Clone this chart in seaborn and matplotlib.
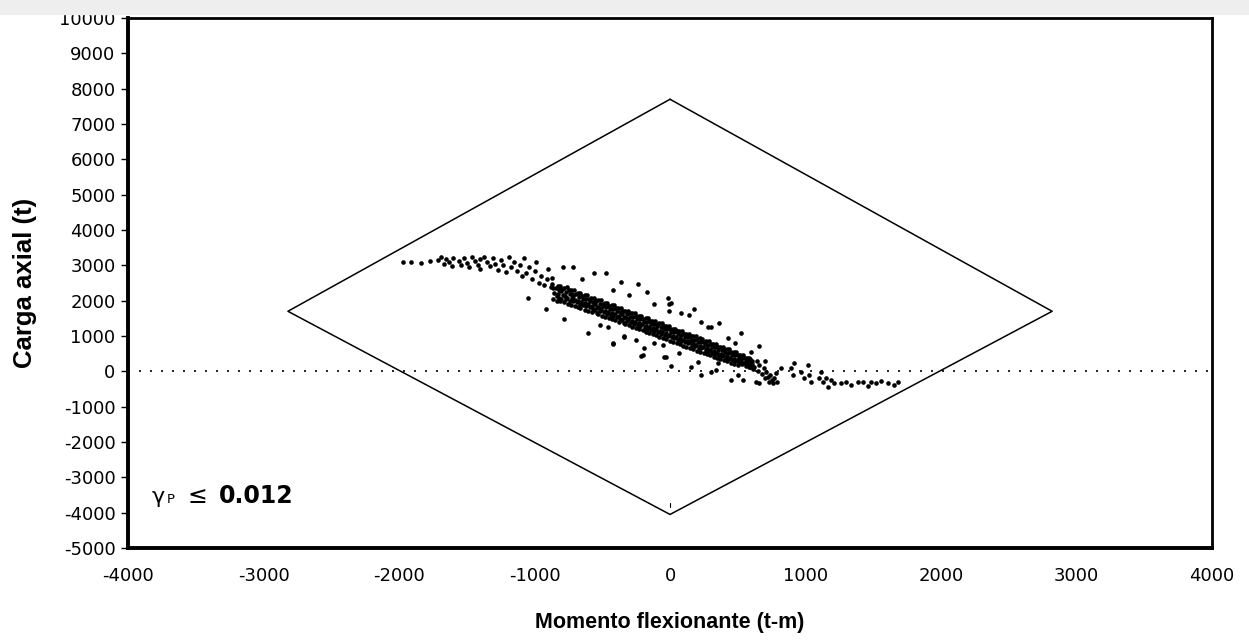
import matplotlib
matplotlib.use("Agg")
import numpy as np
import pandas as pd
import matplotlib.pyplot as plt
import seaborn as sns

# interaction diagram limits (diamond), t-m / t
diamond_m = [0, 2820, 0, -2820, 0]
diamond_p = [7700, 1700, -4050, 1700, 7700]

# upper-left tail of the cloud
tail_up_m = [-1970, -1910, -1840, -1770,
             -1710, -1690, -1670, -1650, -1630, -1610, -1600,
             -1560, -1540, -1520, -1500, -1480, -1460, -1440, -1420, -1400, -1400,
             -1370, -1350, -1330, -1310, -1290, -1270, -1250, -1230, -1210, -1190, -1170, -1150,
             -1130, -1110, -1090, -1080, -1060, -1040, -1020, -1000, -990, -970, -950, -930,
             -910, -900, -880, -870, -860]
tail_up_p = [3090, 3100, 3080, 3110,
             3150, 3250, 3050, 3180, 3100, 2990, 3220,
             3120, 3000, 3200, 3060, 2950, 3240, 3130, 3020, 3180, 2900,
             3250, 3100, 2980, 3200, 3050, 2880, 3150, 3010, 2800, 3230, 2950, 3100,
             2850, 3000, 2700, 3200, 2780, 2950, 2600, 2850, 3100, 2500, 2700, 2450,
             2600, 2900, 2400, 2650, 2350]

# dense band
band_m = [-868, -843, -857, -836, -862,
          -812, -797, -806, -789, -801, -815,
          -764, -748, -741, -757, -736, -752,
          -709, -694, -713, -702, -688, -699,
          -662, -651, -644, -657, -639, -666,
          -613, -598, -592, -607, -588, -604,
          -561, -547, -556, -542, -553, -538,
          -512, -497, -491, -508, -486, -503,
          -463, -449, -441, -457, -437, -452,
          -411, -398, -392, -406, -388, -403,
          -361, -347, -354, -341, -358, -336,
          -312, -298, -293, -307, -287, -302,
          -262, -249, -243, -256, -238, -253,
          -211, -197, -193, -206, -188, -201,
          -162, -148, -143, -157, -138, -152,
          -111, -98, -93, -106, -88, -102,
          -61, -48, -43, -57, -38, -52,
          -11, 2, 7, -6, 12, -2,
          38, 52, 57, 43, 62, 48,
          89, 102, 107, 93, 112, 98,
          138, 152, 157, 143, 162, 148,
          189, 202, 207, 193, 212, 198,
          238, 252, 257, 243, 262, 248,
          289, 302, 307, 293, 312, 298,
          338, 352, 357, 343, 362, 348,
          389, 402, 407, 393, 412, 398,
          438, 452, 457, 443, 462, 448,
          489, 502, 507, 493, 512, 498,
          538, 552, 557, 543, 562,
          588, 602, 607, 593, 612]
band_p = [2480, 2350, 2230, 2120, 2050,
          2420, 2330, 2260, 2150, 2060, 1990,
          2380, 2290, 2180, 2090, 1990, 1920,
          2300, 2200, 2120, 2030, 1950, 1850,
          2230, 2140, 2050, 1960, 1880, 1780,
          2160, 2060, 1990, 1900, 1810, 1720,
          2080, 2000, 1920, 1830, 1750, 1650,
          2010, 1920, 1840, 1760, 1680, 1580,
          1940, 1860, 1770, 1690, 1600, 1510,
          1870, 1780, 1700, 1610, 1530, 1440,
          1800, 1710, 1630, 1540, 1460, 1370,
          1720, 1640, 1550, 1470, 1390, 1300,
          1650, 1570, 1480, 1400, 1320, 1230,
          1580, 1490, 1410, 1330, 1250, 1160,
          1500, 1420, 1340, 1260, 1180, 1090,
          1430, 1350, 1270, 1190, 1110, 1020,
          1360, 1280, 1200, 1110, 1040, 950,
          1290, 1210, 1120, 1040, 960, 870,
          1210, 1130, 1050, 970, 890, 800,
          1140, 1060, 980, 900, 820, 730,
          1070, 990, 900, 820, 740, 650,
          990, 910, 830, 750, 670, 590,
          920, 840, 760, 680, 600, 520,
          850, 770, 690, 610, 530, 450,
          770, 690, 610, 530, 460, 380,
          700, 620, 540, 460, 390, 310,
          620, 540, 460, 390, 320, 240,
          540, 460, 390, 320, 250, 170,
          450, 380, 300, 230, 160,
          350, 280, 200, 130, 60]

band2_m = [-830, -818, -827, -821, -833,
           -781, -770, -776, -768, -779,
           -731, -720, -727, -718, -729,
           -682, -671, -677, -668, -680,
           -631, -620, -627, -618, -629,
           -580, -570, -577, -568, -579,
           -531, -520, -527, -518, -529,
           -481, -470, -477, -468, -479,
           -431, -420, -427, -418, -429,
           -381, -370, -377, -368, -379,
           -331, -320, -327, -318, -329,
           -281, -270, -277, -268, -279,
           -231, -220, -227, -218, -229,
           -181, -170, -177, -168, -179,
           -131, -120, -127, -118, -129,
           -81, -70, -77, -68, -79,
           -31, -20, -27, -18, -29,
           19, 30, 23, 32, 21,
           69, 80, 73, 82, 71,
           119, 130, 123, 132, 121,
           169, 180, 173, 182, 171,
           219, 230, 223, 232, 221,
           269, 280, 273, 282, 271,
           319, 330, 323, 332, 321,
           369, 380, 373, 382, 371,
           419, 430, 423, 432, 421,
           469, 480, 473, 482, 471,
           519, 530, 523, 532,
           569, 580, 573, 582]
band2_p = [2420, 2300, 2190, 2080, 2000,
           2370, 2250, 2140, 2040, 1960,
           2300, 2180, 2070, 1980, 1890,
           2230, 2110, 2000, 1910, 1820,
           2160, 2040, 1930, 1840, 1750,
           2090, 1970, 1860, 1770, 1680,
           2010, 1900, 1790, 1700, 1610,
           1940, 1830, 1720, 1630, 1540,
           1870, 1760, 1650, 1560, 1470,
           1800, 1690, 1580, 1490, 1400,
           1720, 1610, 1500, 1420, 1330,
           1650, 1540, 1430, 1350, 1260,
           1580, 1470, 1360, 1280, 1190,
           1500, 1400, 1290, 1210, 1120,
           1430, 1330, 1220, 1140, 1050,
           1360, 1260, 1150, 1070, 980,
           1290, 1190, 1080, 1000, 910,
           1210, 1110, 1010, 930, 840,
           1140, 1040, 940, 860, 770,
           1070, 970, 870, 790, 700,
           1000, 900, 800, 720, 630,
           930, 830, 720, 650, 560,
           850, 750, 650, 570, 490,
           780, 680, 580, 500, 420,
           700, 600, 500, 430, 350,
           630, 530, 430, 360, 280,
           560, 460, 360, 290, 210,
           470, 380, 280, 200,
           380, 290, 200, 120]

# scattered points around the band
spread_m = [-790, -716, -561, -472, -362, -236, -170, -15, -7, -7,
            -650, -420, -300, -120, 7, 177, 140, 362, 524, 657, 280,
            80, 230, 300, 430, 480, 600, 700,
            -1048, -915, -782, -605, -458, -421, -339, -192, -214, 7, -44,
            -421, -339, -199, -118, -52, -30, 66, 155, 207, 229, 303, 339, 354,
            450, 502, 539, 635, 657, -520, -250]
spread_p = [2940, 2940, 2770, 2770, 2520, 2460, 2240, 2090, 1920, 1700,
            2600, 2300, 2150, 1900, 1924, 1755, 1585, 1358, 1075, 708, 1245,
            1650, 1400, 1250, 950, 800, 550, 300,
            2066, 1755, 1472, 1075, 1245, 764, 962, 651, 424, 141, 396,
            792, 990, 453, 792, 736, 396, 509, 113, 255, -113, -28, 28, 226,
            -255, -113, -255, -311, -340, 1300, 900]

# lower-right tail
tail_low_m = [580, 600, 620, 640, 650, 660, 680, 690, 700, 710, 720, 730, 740,
              750, 760, 770, 780, 790, 819, 893, 915, 908, 967, 989, 1018, 1026,
              1041, 1100, 1114, 1129, 1151, 1166, 1188, 1210, 1262, 1299, 1336,
              1387, 1424, 1461, 1483, 1520, 1557, 1609, 1653, 1683]
tail_low_p = [380, 250, 120, 300, 0, 180, -80, 100, -200, -20, -150, -300, -100,
              -250, -340, -180, -50, -300, 85, 85, 226, -113, -28, -198, 170, -113,
              -311, -198, -28, -311, -198, -453, -255, -340, -340, -311, -396,
              -311, -311, -425, -311, -340, -283, -340, -396, -311]

sns.set_style("white")
plt.rcParams["font.family"] = ["DejaVu Sans"]
plt.rcParams["axes.unicode_minus"] = False
plt.rcParams["text.color"] = "black"
plt.rcParams["xtick.color"] = "black"
plt.rcParams["ytick.color"] = "black"
plt.rcParams["axes.labelcolor"] = "black"

fig = plt.figure(figsize=(12.49, 6.43), dpi=100)
ax = fig.add_axes([0.1025, 0.1477, 0.8679, 0.8243])

# faint grey strip along the top edge of the scan
fig.patches.append(plt.Rectangle((0, 0.978), 1, 0.022, transform=fig.transFigure,
                                 color="#eeeeee", zorder=0))

ax.axhline(0, color="black", lw=1.2, ls=(0, (1.2, 5.4)), zorder=1)

sns.lineplot(x=diamond_m, y=diamond_p, sort=False, color="black", lw=1.1,
             estimator=None, ax=ax, zorder=2)
sns.lineplot(x=[0, 0], y=[-3720, -3830], sort=False, color="black", lw=0.8,
             estimator=None, ax=ax)

pts = pd.DataFrame({
    "m": tail_up_m + band_m + band2_m + spread_m + tail_low_m,
    "p": tail_up_p + band_p + band2_p + spread_p + tail_low_p,
})
sns.scatterplot(data=pts, x="m", y="p", color="black", s=11, marker="o",
                linewidth=0, ax=ax, zorder=3)

ax.set_xlim(-4000, 4000)
ax.set_ylim(-5000, 10000)
ax.set_xticks(range(-4000, 4001, 1000))
ax.set_yticks(range(-5000, 10001, 1000))
ax.tick_params(axis="x", length=0, pad=14, labelsize=13)
ax.tick_params(axis="y", length=5, width=1, direction="out", pad=4, labelsize=13, left=True)

for side, sp in ax.spines.items():
    sp.set_visible(True)
    sp.set_color("black")
    sp.set_linewidth(2.8 if side in ("left", "bottom") else 2.0)

ax.set_xlabel("Momento flexionante (t-m)", fontsize=15.5, fontweight="bold",
              family="Liberation Sans", labelpad=19)
ax.set_ylabel("Carga axial (t)", fontsize=18.5, fontweight="bold",
              family="Liberation Sans", labelpad=16)

ax.text(0.022, 0.085, "γ", transform=ax.transAxes, fontsize=16, va="baseline")
ax.text(0.036, 0.085, "P", transform=ax.transAxes, fontsize=9.5, va="baseline")
ax.text(0.055, 0.085, "≤", transform=ax.transAxes, fontsize=17, va="baseline")
ax.text(0.084, 0.085, "0.012", transform=ax.transAxes, fontsize=17,
        fontweight="bold", va="baseline")

fig.savefig("out.png", dpi=100)
